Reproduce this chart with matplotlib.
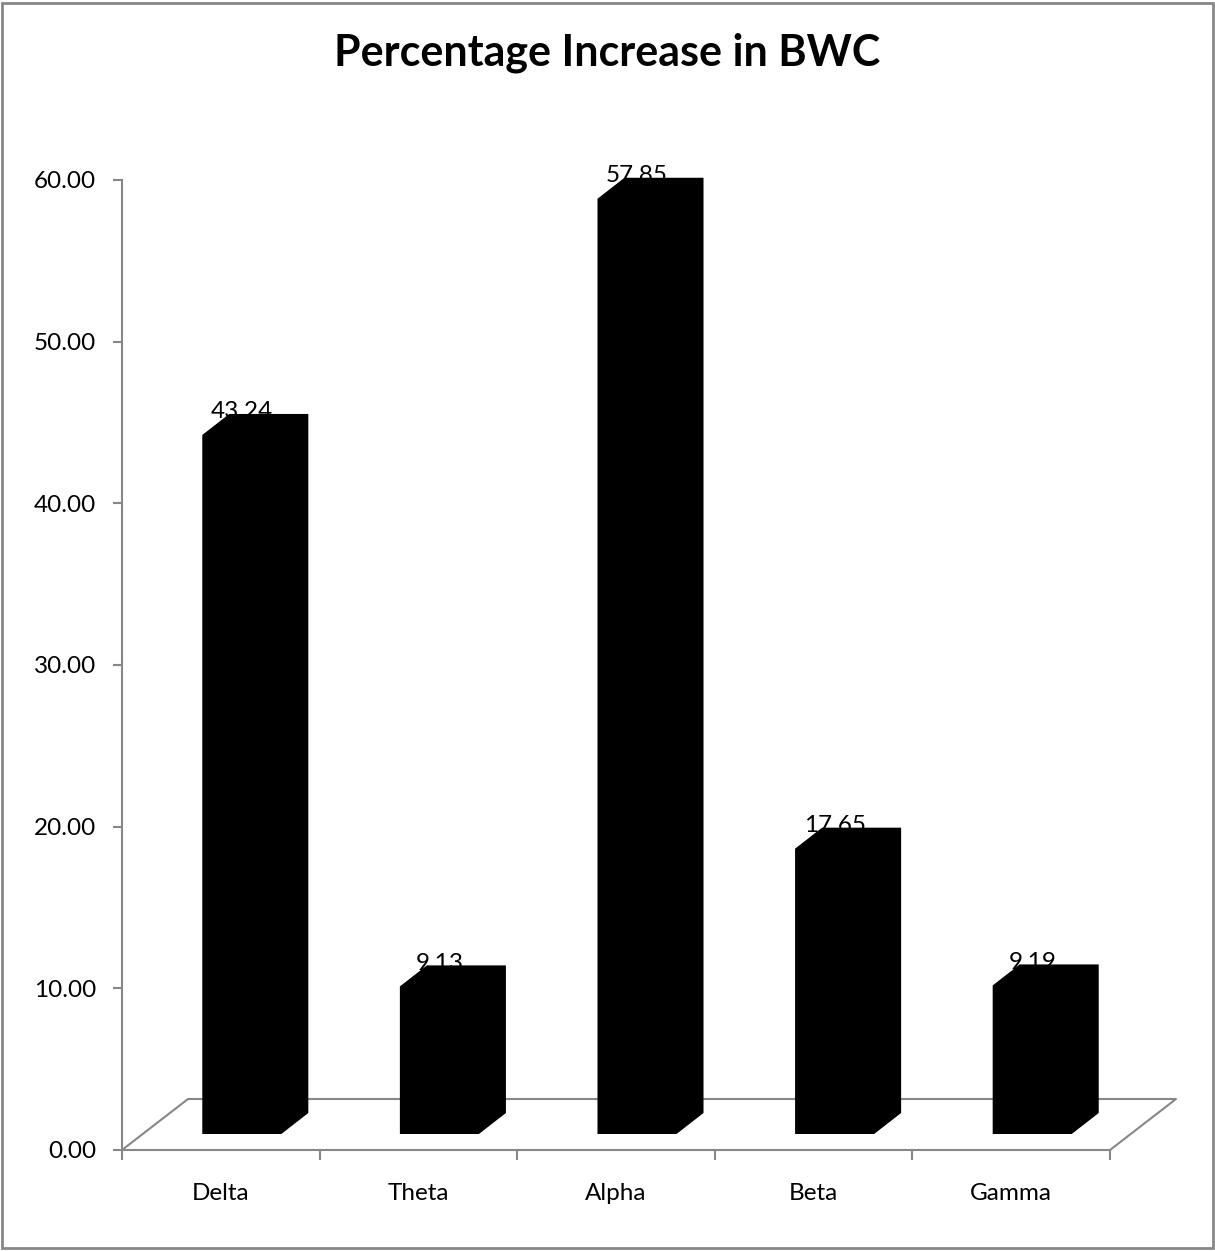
import matplotlib
matplotlib.use("Agg")
import matplotlib.pyplot as plt
from matplotlib.patches import Polygon, Rectangle

bands = ["Delta", "Theta", "Alpha", "Beta", "Gamma"]
increase = [43.24, 9.13, 57.85, 17.65, 9.19]
y_ticks = [0, 10, 20, 30, 40, 50, 60]

plt.rcParams['font.family'] = ['Lato', 'DejaVu Sans']
GRAY = '#878787'

W, H = 1215, 1251
fig = plt.figure(figsize=(W / 100, H / 100), dpi=100)
ax = fig.add_axes([122 / W, 101 / H, 988 / W, 970 / H])
ax.set_xlim(0, len(bands))
ax.set_ylim(0, 60)

# sizes of the fake 3d depth, given in pixels and turned into data units
px_x = len(bands) / 988
px_y = 60 / 970
floor_dx, floor_dy = 66 * px_x, 51 * px_y
front_dx, front_dy = 21 * px_x, 16 * px_y
depth_dx, depth_dy = 27 * px_x, 21 * px_y
bar_w = 0.4

# floor outline (front edge is the bottom spine)
n = len(bands)
ax.plot([0, floor_dx, n + floor_dx, n], [0, floor_dy, floor_dy, 0],
        color=GRAY, lw=1.5, clip_on=False, zorder=1)

for i, v in enumerate(increase):
    x0 = i + 0.5 - bar_w / 2 + front_dx
    x1 = x0 + bar_w
    y0 = front_dy
    y1 = front_dy + v
    pts = [(x0, y0), (x1, y0), (x1 + depth_dx, y0 + depth_dy),
           (x1 + depth_dx, y1 + depth_dy), (x0 + depth_dx, y1 + depth_dy), (x0, y1)]
    ax.add_patch(Polygon(pts, closed=True, facecolor='black', edgecolor='none',
                         clip_on=False, zorder=3))
    ax.annotate(f"{v:.2f}", xy=(x0 + bar_w / 2, y1), xytext=(0, 12),
                textcoords='offset points', ha='center', va='baseline',
                fontsize=17.5, zorder=2, annotation_clip=False)

for side in ['top', 'right']:
    ax.spines[side].set_visible(False)
for side in ['left', 'bottom']:
    ax.spines[side].set_color(GRAY)
    ax.spines[side].set_linewidth(1.5)

ax.set_yticks(y_ticks)
ax.set_yticklabels([f"{t:.2f}" for t in y_ticks])
ax.tick_params(axis='y', direction='out', length=6.5, width=1.5, color=GRAY,
               pad=12, labelsize=17.5)

ax.set_xticks(range(n + 1))
ax.set_xticklabels([])
ax.set_xticks([i + 0.5 for i in range(n)], minor=True)
ax.set_xticklabels(bands, minor=True)
ax.tick_params(axis='x', which='major', direction='out', length=7, width=1.5, color=GRAY)
ax.tick_params(axis='x', which='minor', length=0, pad=24, labelsize=17.5)

fig.text(0.5, 1 - 53 / H, "Percentage Increase in BWC", ha='center', va='center',
         fontsize=31, fontweight='bold')

fig.add_artist(Rectangle((0.002, 0.002), 0.996, 0.996, transform=fig.transFigure,
                         fill=False, edgecolor=GRAY, lw=2))

fig.savefig('out.png', dpi=100)
